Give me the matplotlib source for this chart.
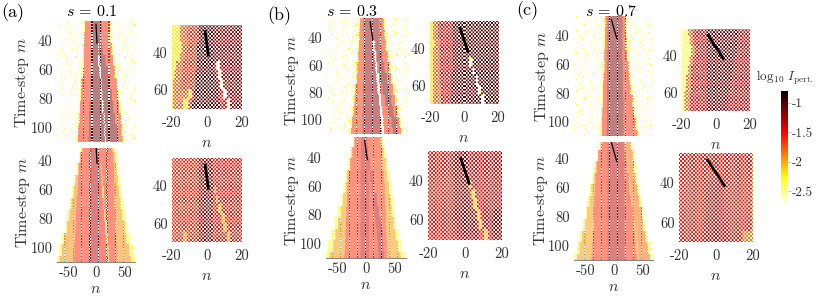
import numpy as np
import matplotlib
matplotlib.use("Agg")
import matplotlib.pyplot as plt

plt.rcParams.update({
    "font.family": ["cmr10", "DejaVu Serif"],
    "mathtext.fontset": "cm",
    "axes.unicode_minus": False,
    "axes.formatter.use_mathtext": True,
})

W, H = 822, 297
VMIN, VMAX = -2.75, -0.8
TEXT = "#333333"
CMAP = plt.get_cmap("hot_r").copy()
CMAP.set_under("white")
CMAP.set_bad("white")
NORM = plt.Normalize(VMIN, VMAX)
EMPTY = -9.0
FRINGE = -2.6          # marks the speckled outer zone

# Speckle texture of the outer zone, as seen in the picture
SPECKLE_TILE = [
    "x....o.....",
    "..o.....x..",
    ".....x.....",
    ".x.......o.",
    "....o..x...",
    "o..........",
    "...x.....o.",
    "......o....",
    ".o.......x.",
    "....x......",
    "x.....o....",
    "...o.....x.",
    ".......x...",
]
SPECKLE_LEVELS = {"x": -2.3, "o": -2.5, ".": EMPTY}

# Row bands (first time-step of each band)
WIDE_M = [26, 34, 42, 50, 58, 66, 74, 82, 90, 98, 106]
SMALL_M = [25, 30, 35, 40, 45, 50, 55, 60, 65]

# Wide panels: log10 level per segment, and segment boundaries in n per row band
A_TOP_LEVELS = [FRINGE, -2.3, -1.6, -1.1, -2.6, -1.1, -1.6, -2.3, FRINGE]
A_TOP_BREAKS = [
    [-70, -21, -19, -9, 10, 10, 10, 24, 27, 70],
    [-70, -22, -20, -9, 10, 10, 10, 25, 28, 70],
    [-70, -23, -21, -9, 4, 5, 12, 27, 30, 70],
    [-70, -24, -22, -9, 4, 6, 17, 30, 33, 70],
    [-70, -26, -23, -9, 6, 8, 21, 33, 36, 70],
    [-70, -27, -25, -10, 8, 10, 25, 36, 39, 70],
    [-70, -29, -26, -10, 10, 12, 28, 38, 41, 70],
    [-70, -30, -28, -11, 11, 13, 31, 41, 44, 70],
    [-70, -32, -29, -12, 13, 15, 34, 43, 46, 70],
    [-70, -33, -31, -12, 15, 17, 37, 45, 48, 70],
    [-70, -35, -32, -13, 16, 18, 39, 47, 50, 70],
]
A_LOW_LEVELS = [-2.35, -1.9, -1.6, -1.3, -1.55, -2.05, -1.6, -1.9, -2.35]
A_LOW_BREAKS = [
    [-27, -25, -24, -10, 5, 5, 5, 28, 31, 33],
    [-30, -28, -27, -10, 5, 5, 5, 30, 34, 36],
    [-34, -32, -30, -10, 6, 8, 10, 32, 36, 39],
    [-38, -36, -32, -10, 6, 10, 12, 32, 38, 42],
    [-42, -39, -33, -11, 6, 11, 14, 33, 41, 45],
    [-46, -43, -34, -11, 6, 13, 15, 33, 43, 48],
    [-50, -47, -35, -11, 6, 14, 17, 34, 46, 51],
    [-55, -51, -36, -12, 6, 16, 19, 34, 50, 55],
    [-60, -56, -37, -12, 6, 17, 20, 35, 54, 60],
    [-66, -60, -38, -12, 5, 19, 22, 36, 58, 64],
    [-70, -64, -39, -13, 5, 20, 23, 36, 62, 68],
]
B_TOP_LEVELS = [FRINGE, -2.3, -1.65, -1.2, -2.6, -1.6, -1.1, -1.6, -2.3, FRINGE]
B_TOP_BREAKS = [
    [-78, -22, -19, -13, 14, 14, 14, 14, 22, 25, 68],
    [-78, -23, -20, -13, 15, 15, 15, 15, 24, 27, 68],
    [-78, -24, -21, -13, 4, 6, 8, 15, 26, 29, 68],
    [-78, -25, -22, -13, 6, 9, 11, 20, 29, 32, 68],
    [-78, -27, -24, -13, 8, 11, 13, 24, 32, 35, 68],
    [-78, -28, -25, -13, 10, 14, 16, 28, 35, 38, 68],
    [-78, -30, -27, -14, 12, 16, 20, 32, 39, 42, 68],
    [-78, -32, -29, -14, 14, 18, 25, 36, 42, 45, 68],
    [-78, -34, -31, -15, 16, 20, 31, 40, 46, 49, 68],
    [-78, -36, -33, -15, 18, 22, 36, 44, 50, 53, 68],
    [-78, -38, -35, -15, 19, 23, 39, 47, 53, 56, 68],
]
B_LOW_LEVELS = [-2.35, -1.95, -1.62, -1.35, -1.6, -1.3, -1.65, -1.95, -2.35]
B_LOW_BREAKS = [
    [-22, -20, -19, -8, 4, 4, 4, 26, 28, 30],
    [-26, -24, -23, -8, 5, 5, 5, 29, 32, 34],
    [-30, -28, -26, -8, 5, 5, 8, 30, 35, 38],
    [-34, -32, -30, -9, 5, 8, 12, 32, 38, 41],
    [-38, -35, -31, -9, 6, 11, 16, 33, 41, 44],
    [-43, -39, -32, -9, 6, 13, 20, 34, 44, 47],
    [-48, -43, -33, -9, 6, 16, 24, 35, 46, 50],
    [-54, -48, -34, -9, 6, 18, 27, 36, 49, 53],
    [-60, -53, -35, -9, 6, 20, 30, 37, 53, 57],
    [-66, -58, -36, -9, 6, 22, 32, 38, 57, 62],
    [-70, -63, -37, -9, 6, 23, 33, 39, 62, 70],
]
C_TOP_LEVELS = [FRINGE, -2.3, -1.6, -1.15, -1.6, -2.3, FRINGE]
C_TOP_BREAKS = [
    [-70, -17, -14, -10, 16, 21, 24, 70],
    [-70, -17, -15, -10, 16, 22, 25, 70],
    [-70, -18, -15, -10, 16, 23, 26, 70],
    [-70, -18, -16, -10, 16, 24, 27, 70],
    [-70, -19, -16, -11, 17, 26, 29, 70],
    [-70, -19, -17, -11, 17, 28, 31, 70],
    [-70, -20, -18, -11, 17, 30, 33, 70],
    [-70, -21, -18, -11, 18, 33, 36, 70],
    [-70, -22, -19, -11, 18, 36, 39, 70],
    [-70, -23, -20, -11, 18, 39, 42, 70],
    [-70, -24, -21, -12, 18, 42, 45, 70],
]
C_LOW_LEVELS = [-2.35, -1.95, -1.62, -1.32, -1.62, -1.95, -1.8, -2.35]
C_LOW_BREAKS = [
    [-25, -23, -22, -10, 19, 19, 19, 30, 32],
    [-29, -27, -26, -10, 19, 19, 19, 33, 36],
    [-33, -31, -29, -10, 19, 24, 26, 36, 39],
    [-37, -35, -31, -10, 19, 26, 28, 39, 42],
    [-41, -38, -32, -10, 19, 28, 31, 42, 45],
    [-45, -42, -33, -10, 19, 31, 33, 45, 48],
    [-49, -46, -34, -10, 19, 33, 36, 49, 52],
    [-54, -50, -35, -10, 19, 35, 38, 52, 56],
    [-60, -55, -36, -10, 19, 37, 41, 56, 60],
    [-65, -60, -37, -10, 19, 39, 43, 60, 64],
    [-70, -64, -38, -10, 19, 41, 45, 64, 68],
]

# Zoomed panels
AS_TOP_LEVELS = [-2.2, -1.75, -2.2, -1.6, -1.0, -1.5, -2.6, -1.2]
AS_TOP_BREAKS = [
    [-20, -15, -11, -11, -4, 5, 5, 5, 20],
    [-20, -15, -11, -11, -4, 5, 5, 5, 20],
    [-20, -14, -11, -11, -5, 5, 5, 5, 20],
    [-20, -15, -12, -12, -5, 5, 5, 5, 20],
    [-20, -17, -13, -13, -5, 5, 6, 8, 20],
    [-20, -18, -14, -14, -6, 6, 7, 9, 20],
    [-20, -19, -15, -15, -6, 7, 8, 10, 20],
    [-20, -19, -10, -8, -7, 7, 10, 12, 20],
    [-20, -19, -13, -10, -8, 8, 12, 14, 20],
]
AS_LOW_LEVELS = [-1.6, -1.95, -1.6, -1.2, -1.55, -2.0, -1.55]
AS_LOW_BREAKS = [
    [-20, -20, -20, -4, 4, 4, 4, 20],
    [-20, -20, -20, -4, 4, 4, 4, 20],
    [-20, -20, -20, -4, 4, 4, 4, 20],
    [-20, -20, -20, -4, 4, 5, 6, 20],
    [-20, -20, -20, -4, 4, 6, 7, 20],
    [-20, -20, -20, -4, 4, 7, 9, 20],
    [-20, -20, -20, -4, 4, 9, 11, 20],
    [-20, -20, -20, -4, 4, 10, 12, 20],
    [-20, -13, -11, -4, 4, 12, 14, 20],
]
BS_TOP_LEVELS = [-2.2, -1.75, -1.5, -1.05, -2.6, -1.0, -1.35]
BS_TOP_BREAKS = [
    [-20, -18, -15, -6, 20, 20, 20, 20],
    [-20, -18, -15, -6, 20, 20, 20, 20],
    [-20, -17, -14, -6, 20, 20, 20, 20],
    [-20, -18, -14, -6, 20, 20, 20, 20],
    [-20, -18, -14, -6, 3, 5, 20, 20],
    [-20, -18, -14, -6, 5, 6, 20, 20],
    [-20, -18, -14, -7, 7, 8, 20, 20],
    [-20, -18, -13, -7, 8, 10, 20, 20],
    [-20, -18, -13, -7, 10, 12, 20, 20],
]
BS_LOW_LEVELS = [-1.55, -1.25, -1.55, -2.1, -1.5, -1.2]
BS_LOW_BREAKS = [
    [-20, -5, 2, 2, 2, 20, 20],
    [-20, -5, 2, 2, 2, 20, 20],
    [-20, -5, 2, 2, 2, 20, 20],
    [-20, -5, 2, 3, 4, 20, 20],
    [-20, -5, 3, 4, 6, 20, 20],
    [-20, -5, 4, 5, 7, 20, 20],
    [-20, -5, 5, 7, 9, 16, 20],
    [-20, -4, 6, 8, 10, 15, 20],
    [-20, -4, 8, 11, 13, 15, 20],
]
CS_TOP_LEVELS = [-2.4, -1.8, -1.5, -1.1, -1.4]
CS_TOP_BREAKS = [
    [-20, -16, -13, -5, 14, 20],
    [-20, -15, -13, -5, 14, 20],
    [-20, -14, -12, -5, 13, 20],
    [-20, -15, -13, -5, 12, 20],
    [-20, -16, -14, -5, 11, 20],
    [-20, -17, -14, -5, 10, 20],
    [-20, -17, -14, -5, 9, 20],
    [-20, -18, -15, -5, 8, 20],
    [-20, -18, -15, -5, 8, 20],
]
CS_LOW_LEVELS = [-1.55, -1.35, -1.55, -1.85]
CS_LOW_BREAKS = [
    [-20, -20, -20, 20, 20],
    [-20, -20, -20, 20, 20],
    [-20, -20, -20, 20, 20],
    [-20, -5, 5, 20, 20],
    [-20, -5, 5, 20, 20],
    [-20, -5, 5, 20, 20],
    [-20, -5, 5, 20, 20],
    [-20, -5, 6, 20, 20],
    [-20, -5, 6, 15, 20],
]

# Perturbation trajectory (black lines): n at first and last time-step
TRACK_M = [28, 42]
TRACK_A = [-1, 1]
TRACK_B = [-2.5, 2.5]
TRACK_C = [-5, 5]

WIDE_TICKS = [-50, 0, 50]
SMALL_TICKS = [-20, 0, 20]
M_TICKS_WIDE = [40, 60, 80, 100]
M_TICKS_SMALL = [40, 60]
CB_TICKS = [-1, -1.5, -2, -2.5]
CB_LABELS = ["-1", "-1.5", "-2", "-2.5"]


def cells(nlim, mlim, rows, levels, breaks):
    ns = np.arange(nlim[0], nlim[1] + 1)
    ms = np.arange(mlim[0], mlim[1] + 1)
    out = np.full((ms.size, ns.size), EMPTY)
    for i, m in enumerate(ms):
        r = max(np.searchsorted(rows, m, side="right") - 1, 0)
        b = np.asarray(breaks[r], float)
        for j, n in enumerate(ns):
            if (n + m) % 2 or n < b[0] or n > b[-1]:
                continue
            k = min(np.searchsorted(b, n, side="right") - 1, len(levels) - 1)
            v = levels[k]
            if v == FRINGE:
                row = SPECKLE_TILE[m % len(SPECKLE_TILE)]
                v = SPECKLE_LEVELS[row[n % len(row)]]
            out[i, j] = v
    return ns, ms, out


def resample_fine(rgb, pos_x, pos_y, sharp=2.5):
    """Zoomed panels: cells are larger than a pixel, blend only at their borders."""
    ix = np.clip(np.floor(pos_x).astype(int), 0, rgb.shape[1] - 2)
    wx = np.clip((pos_x - ix - 0.5) * sharp + 0.5, 0, 1)[None, :, None]
    out = rgb[:, ix] * (1 - wx) + rgb[:, ix + 1] * wx
    iy = np.clip(np.floor(pos_y).astype(int), 0, rgb.shape[0] - 2)
    wy = np.clip((pos_y - iy - 0.5) * sharp + 0.5, 0, 1)[:, None, None]
    return out[iy] * (1 - wy) + out[iy + 1] * wy


def resample_wide(rgb, pos_x, pos_y, dot_even):
    """Wide panels: cells are below a pixel. Neighbours average to a pale tone,
    except in the columns that fall on a cell centre, which show the raw cells."""
    ix = np.clip(np.round(pos_x).astype(int), 0, rgb.shape[1] - 2)
    raw = np.abs(((pos_x - dot_even + 1) % 2) - 1) < 0.13
    mixed = 0.5 * (rgb[:, ix] + rgb[:, ix + 1])
    out = np.where(raw[None, :, None], rgb[:, ix], mixed)
    iy = np.clip(np.round(pos_y).astype(int), 0, rgb.shape[0] - 1)
    return out[iy]


def panel(x0, px_n, y40, px_m, nlim, mlim, rows, levels, breaks, track, lw,
          xticks=None, yticks=(), bottom_line=False, dot=None):
    left = int(round(x0 + nlim[0] * px_n))
    right = int(round(x0 + nlim[1] * px_n))
    top = int(round(y40 + (mlim[0] - 40) * px_m))
    bot = int(round(y40 + (mlim[1] - 40) * px_m))
    ax = fig.add_axes([left / W, 1 - bot / H, (right - left) / W, (bot - top) / H])
    ax.patch.set_alpha(0)
    xlim = ((left - x0) / px_n, (right - x0) / px_n)
    ylim = (40 + (bot - y40) / px_m, 40 + (top - y40) / px_m)
    ns, ms, z = cells(nlim, mlim, rows, levels, breaks)
    rgb = CMAP(NORM(z))[..., :3]
    n_at = (np.arange(left, right) + 0.5 - x0) / px_n
    m_at = 40 + (np.arange(top, bot) + 0.5 - y40) / px_m
    if dot is None:
        img = resample_fine(rgb, n_at - nlim[0], m_at - mlim[0])
    else:
        img = resample_wide(rgb, n_at - nlim[0], m_at - mlim[0],
                            (dot + 0.5 - x0) / px_n - nlim[0])
    ax.imshow(img, aspect="auto", interpolation="nearest",
              extent=[xlim[0], xlim[1], ylim[0], ylim[1]])
    ax.plot(track, TRACK_M, color="k", lw=lw, solid_capstyle="butt")
    ax.set_xlim(xlim)
    ax.set_ylim(ylim)
    for s in ax.spines.values():
        s.set_visible(False)
    if bottom_line:
        ax.spines["bottom"].set_visible(True)
        ax.spines["bottom"].set_color("#888888")
        ax.spines["bottom"].set_linewidth(0.8)
    zoomed = dot is None
    ax.tick_params(axis="x", length=0, labelsize=10.5, colors=TEXT, pad=5 if zoomed else 3)
    ax.tick_params(axis="y", length=0, labelsize=10.5, colors=TEXT, pad=3)
    ax.set_xticks(xticks if xticks is not None else [])
    if xticks is not None:
        ax.set_xticklabels([str(t) for t in xticks])
        ax.set_xlabel("$n$", fontsize=11.5, color=TEXT, labelpad=5 if zoomed else 2)
    ax.set_yticks(list(yticks))
    ax.set_yticklabels([str(t) for t in yticks])
    return ax


fig = plt.figure(figsize=(W / 100, H / 100), dpi=100)

# column (a)
panel(96.5, .567, 41, 1.445, (-70, 70), (26, 110), WIDE_M, A_TOP_LEVELS, A_TOP_BREAKS, TRACK_A, 0.9, yticks=M_TICKS_WIDE, dot=100)
panel(96.5, .567, 161, 1.445, (-70, 68), (31, 110), WIDE_M, A_LOW_LEVELS, A_LOW_BREAKS, TRACK_A, 0.9, xticks=WIDE_TICKS, yticks=M_TICKS_WIDE, bottom_line=True, dot=98)
panel(206.7, 1.74, 52.7, 1.87, (-20, 20), (25, 70), SMALL_M, AS_TOP_LEVELS, AS_TOP_BREAKS, TRACK_A, 2.0, xticks=SMALL_TICKS, yticks=M_TICKS_SMALL)
panel(206.7, 1.74, 186, 1.865, (-20, 20), (25, 70), SMALL_M, AS_LOW_LEVELS, AS_LOW_BREAKS, TRACK_A, 2.0, xticks=SMALL_TICKS, yticks=M_TICKS_SMALL)
# column (b)
panel(371.5, .57, 37.7, 1.373, (-78, 68), (26, 110), WIDE_M, B_TOP_LEVELS, B_TOP_BREAKS, TRACK_B, 0.9, yticks=M_TICKS_WIDE, dot=372)
panel(366, .57, 157.3, 1.445, (-70, 70), (26, 110), WIDE_M, B_LOW_LEVELS, B_LOW_BREAKS, TRACK_B, 0.9, xticks=WIDE_TICKS, yticks=M_TICKS_WIDE, bottom_line=True, dot=373)
panel(464, 1.69, 49, 1.85, (-20, 20), (25, 70), SMALL_M, BS_TOP_LEVELS, BS_TOP_BREAKS, TRACK_B, 2.0, xticks=SMALL_TICKS, yticks=M_TICKS_SMALL)
panel(465, 1.825, 180.7, 1.965, (-20, 20), (25, 70), SMALL_M, BS_LOW_LEVELS, BS_LOW_BREAKS, TRACK_B, 2.0, xticks=SMALL_TICKS, yticks=M_TICKS_SMALL)
# column (c)
panel(614, .57, 36, 1.43, (-70, 70), (26, 110), WIDE_M, C_TOP_LEVELS, C_TOP_BREAKS, TRACK_C, 0.9, yticks=M_TICKS_WIDE, dot=617)
panel(614, .57, 159, 1.445, (-70, 68), (28, 110), WIDE_M, C_LOW_LEVELS, C_LOW_BREAKS, TRACK_C, 0.9, xticks=WIDE_TICKS, yticks=M_TICKS_WIDE, bottom_line=True, dot=617)
panel(715.7, 1.69, 56, 1.83, (-20, 20), (25, 70), SMALL_M, CS_TOP_LEVELS, CS_TOP_BREAKS, TRACK_C, 2.0, xticks=SMALL_TICKS, yticks=M_TICKS_SMALL)
panel(716, 1.835, 182.7, 1.98, (-20, 20), (25, 70), SMALL_M, CS_LOW_LEVELS, CS_LOW_BREAKS, TRACK_C, 2.0, xticks=SMALL_TICKS, yticks=M_TICKS_SMALL)


def put(x, y, s, **kw):
    fig.text(x / W, 1 - y / H, s, ha="center", va="center", **kw)


for x, y, s in [(12.5, 12.5, "(a)"), (279, 16, "(b)"), (527, 11, "(c)")]:
    put(x, y, s, fontsize=13, color="k")
for x, y, s in [(92, 11, "$s$ = 0.1"), (352, 11, "$s$ = 0.3"), (611, 11, "$s$ = 0.7")]:
    put(x, y, s, fontsize=11.5, color="k")
for x, y in [(22, 82), (23, 202), (292, 80), (292, 200), (542, 76), (541, 200)]:
    put(x, y, "Time-step $m$", fontsize=11.5, color=TEXT, rotation=90)
put(785, 78, r"$\log_{10}\,I_{\mathrm{pert.}}$", fontsize=9.5, color=TEXT)

cax = fig.add_axes([780.7 / W, 1 - 205.7 / H, 7 / W, 114.7 / H])
grad = np.linspace(VMAX, VMIN, 256).reshape(-1, 1)
cax.imshow(grad, cmap="hot_r", vmin=VMIN, vmax=VMAX, aspect="auto",
           extent=[0, 1, VMIN, VMAX])
cax.set_xticks([])
cax.yaxis.tick_right()
cax.set_yticks(CB_TICKS)
cax.set_yticklabels(CB_LABELS)
cax.tick_params(length=2, width=0.5, color="#aaaaaa", labelsize=9.5, labelcolor=TEXT, pad=1)
for s in cax.spines.values():
    s.set_visible(False)

fig.savefig("out.png", dpi=100)
